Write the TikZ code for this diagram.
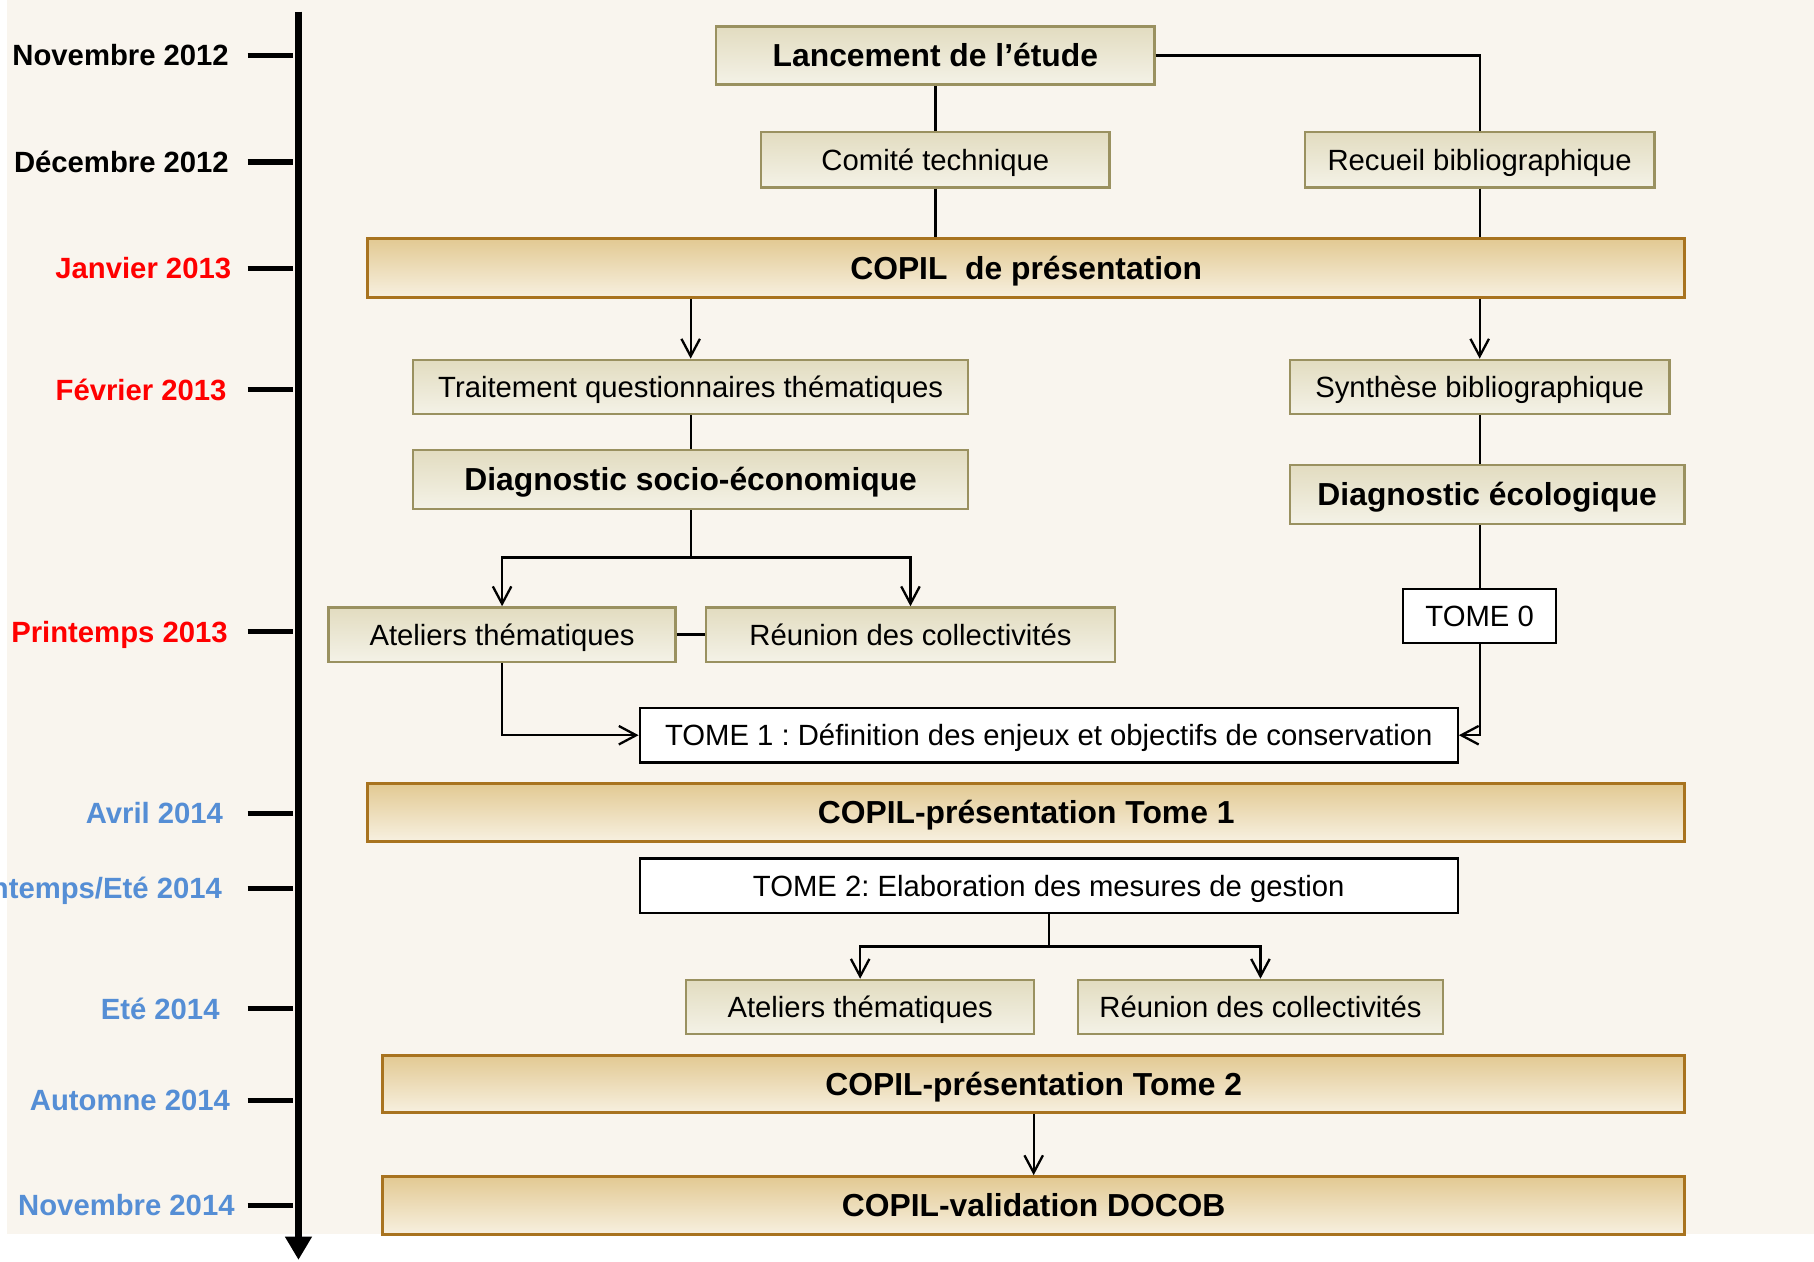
\documentclass[tikz,border=0pt]{standalone}
\usepackage{fontspec}
\setmainfont{Liberation Sans}
\frenchspacing
\usetikzlibrary{arrows.meta,calc}
\definecolor{bgc}{RGB}{249,245,238}
\definecolor{ktop}{RGB}{226,220,192}
\definecolor{kbot}{RGB}{244,242,231}
\definecolor{kline}{RGB}{154,145,96}
\definecolor{gtop}{RGB}{226,201,146}
\definecolor{gmid}{RGB}{233,214,170}
\definecolor{gbot}{RGB}{247,240,224}
\definecolor{gline}{RGB}{168,115,31}
\definecolor{lblred}{RGB}{255,0,0}
\definecolor{lblblue}{RGB}{85,142,213}
\tikzset{
  regfont/.style={font=\fontsize{25.3}{30}\selectfont, text height=18.1pt, text depth=0pt},
  boldfont/.style={font=\fontsize{27.5}{32}\selectfont\bfseries, text height=19.7pt, text depth=0pt},
  kbox/.style={draw=kline, line width=2pt, top color=ktop, bottom color=kbot, inner sep=0pt, rectangle},
  gbox/.style={draw=gline, line width=2.5pt, top color=gtop, middle color=gmid, bottom color=gbot, inner sep=0pt, rectangle, boldfont},
  wbox/.style={draw=black, line width=2pt, fill=white, inner sep=0pt, rectangle, regfont},
  conn/.style={draw=black, line width=2pt},
  arr/.style={conn, -{Straight Barb[length=15pt,width=16pt]}},
  tick/.style={line width=4.5pt},
  lbl/.style={anchor=base east, inner sep=0pt, font=\fontsize{25.3}{30}\selectfont\bfseries},
}
\begin{document}
\begin{tikzpicture}[x=1pt,y=-1pt]
\useasboundingbox (0,0) rectangle (1568,1090);
\fill[white] (0,0) rectangle (1568,1090);
\fill[bgc] (6,0) rectangle (1568,1067);

% timeline
\coordinate (axtop) at (258,10);
\coordinate (axbot) at (258,1089);
\draw[line width=6pt, -{Triangle[width=22pt,length=20pt]}] (axtop) -- (axbot);

\foreach \yy/\xx/\col/\txt/\nm in {
  48/198/black/{Novembre 2012}/l1,
  140/198/black/{Décembre 2012}/l2,
  232/200/lblred/{Janvier 2013}/l3,
  337/196/lblred/{Février 2013}/l4,
  546/197/lblred/{Printemps 2013}/l5,
  703/193/lblblue/{Avril 2014}/l6,
  768/192/lblblue/{Printemps/Eté 2014}/l7,
  872/190/lblblue/{Eté 2014}/l8,
  951/199/lblblue/{Automne 2014}/l9,
  1042/203/lblblue/{Novembre 2014}/l10}{
  \draw[tick] (214,\yy) -- (253,\yy);
  \node[lbl, text=\col] (\nm) at (\xx,\yy+9) {\txt};
}

% boxes
\node[kbox, boldfont, minimum width=379pt, minimum height=50pt] (lanc) at (808.5,48) {Lancement de l’étude};
\node[kbox, regfont, minimum width=301pt, minimum height=48pt] (comite) at (808.5,138) {Comité technique};
\node[kbox, regfont, minimum width=302pt, minimum height=48pt] (recueil) at (1279,138) {Recueil bibliographique};
\node[gbox, minimum width=1138pt, minimum height=51pt] (copil1) at (887,231.5) {COPIL\ \ de présentation};
\node[kbox, regfont, minimum width=480pt, minimum height=47pt] (trait) at (597,334.5) {Traitement questionnaires thématiques};
\node[kbox, regfont, minimum width=328pt, minimum height=47pt] (synth) at (1279,334.5) {Synthèse bibliographique};
\node[kbox, boldfont, minimum width=480pt, minimum height=51pt] (diagsoc) at (597,414.5) {Diagnostic socio-économique};
\node[kbox, boldfont, minimum width=341pt, minimum height=51pt] (diageco) at (1285.5,427.5) {Diagnostic écologique};
\node[kbox, regfont, minimum width=300pt, minimum height=47pt] (at1) at (434,548.5) {Ateliers thématiques};
\node[kbox, regfont, minimum width=354pt, minimum height=47pt] (re1) at (787,548.5) {Réunion des collectivités};
\node[wbox, minimum width=132pt, minimum height=47pt] (tome0) at (1279,532.5) {TOME 0};
\node[wbox, minimum width=707pt, minimum height=47pt] (tome1) at (906.5,635.5) {TOME 1 : Définition des enjeux et objectifs de conservation};
\node[gbox, minimum width=1138pt, minimum height=50pt] (copilt1) at (887,702) {COPIL-présentation Tome 1};
\node[wbox, minimum width=707pt, minimum height=47pt] (tome2) at (906.5,765.5) {TOME 2: Elaboration des mesures de gestion};
\node[kbox, regfont, minimum width=301pt, minimum height=47pt] (at2) at (743.5,870.5) {Ateliers thématiques};
\node[kbox, regfont, minimum width=315pt, minimum height=47pt] (re2) at (1089.5,870.5) {Réunion des collectivités};
\node[gbox, minimum width=1125pt, minimum height=50pt] (copilt2) at (893.5,937) {COPIL-présentation Tome 2};
\node[gbox, minimum width=1125pt, minimum height=50pt] (docob) at (893.5,1042) {COPIL-validation DOCOB};

% connectors
\draw[conn] (lanc.east) -| (recueil.north);
\draw[conn] (lanc.south) -- (comite.north);
\draw[conn] (comite.south) -- (comite.south |- copil1.north);
\draw[conn] (recueil.south) -- (recueil.south |- copil1.north);
\draw[arr] (trait.north |- copil1.south) -- (trait.north);
\draw[arr] (synth.north |- copil1.south) -- (synth.north);
\draw[conn] (trait.south) -- (diagsoc.north);
\draw[conn] (synth.south) -- (synth.south |- diageco.north);
\coordinate (j1) at (597,482);
\draw[conn] (diagsoc.south) -- (j1);
\draw[arr] (j1) -| (at1.north);
\draw[arr] (j1) -| (re1.north);
\draw[conn] (at1.east) -- (re1.west);
\draw[arr] (at1.south) |- (tome1.west);
\draw[conn] (tome0.north |- diageco.south) -- (tome0.north);
\draw[arr] (tome0.south) |- (tome1.east);
\coordinate (j2) at (906.5,818);
\draw[conn] (tome2.south) -- (j2);
\draw[arr] (j2) -| (at2.north);
\draw[arr] (j2) -| (re2.north);
\draw[arr] (copilt2.south) -- (docob.north);
\end{tikzpicture}
\end{document}
